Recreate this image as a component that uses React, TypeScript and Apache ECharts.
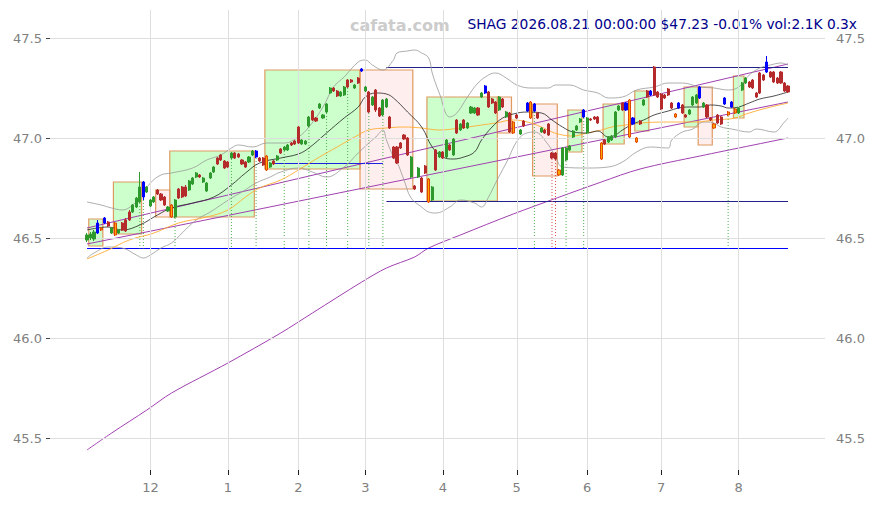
import React, { useEffect, useRef } from 'react';
import * as echarts from 'echarts';

// ---------- categories (trading days) ----------
const HOLIDAYS = ['2025-11-27', '2025-12-25', '2026-01-01', '2026-01-19', '2026-02-16', '2026-04-03', '2026-05-25', '2026-06-19', '2026-07-03', '2026-09-07'];
const FIRST_DAY = '2025-10-21';
const LAST_DAY = '2026-09-04';
const PAD = 10; // empty trading days before/after the data

const monthStarts = ['2025-12-01', '2026-01-02', '2026-02-02', '2026-03-02', '2026-04-01', '2026-05-01', '2026-06-01', '2026-07-01', '2026-08-03'];
const monthLabels = ['12', '1', '2', '3', '4', '5', '6', '7', '8'];
const yTicks = [45.5, 46.0, 46.5, 47.0, 47.5];

// ---------- title ----------
const ticker = 'SHAG';
const stamp = '2026.08.21 00:00:00';
const lastPrice = '$47.23';
const change = '-0.01%';
const volume = 'vol:2.1K';
const volRatio = '0.3x';

// ---------- candles (Nov 4 2025 .. Aug 21 2026) ----------
const opens = [
  46.49, 46.50, 46.495, 46.525, 46.54, 46.575, 46.58, 46.525, 46.575, 46.525,
  46.575, 46.59, 46.63, 46.63, 46.655, 46.68, 46.705, 46.73, 46.66, 46.68,
  46.74, 46.72, 46.705, 46.635, 46.665, 46.605, 46.745, 46.755, 46.755, 46.74,
  46.77, 46.805, 46.815, 46.78, 46.735, 46.80, 46.83, 46.90, 46.915, 46.885,
  46.88, 46.90, 46.925, 46.92, 46.89, 46.88, 46.88, 46.915, 46.905, 46.90,
  46.90, 46.91, 46.855, 46.885, 46.89, 46.945, 46.94, 46.94, 46.975, 46.985,
  47.055, 46.97, 46.97, 47.06, 47.135, 47.10, 47.15, 47.10, 47.13, 47.225,
  47.25, 47.235, 47.21, 47.215, 47.29, 47.29, 47.25, 47.30, 47.335, 47.235,
  47.23, 47.165, 47.24, 47.15, 47.115, 47.155, 47.105, 46.955, 46.955, 46.975,
  47.015, 47.00, 46.805, 46.76, 46.805, 46.80, 46.86, 46.795, 46.69, 46.94,
  46.905, 46.93, 46.905, 46.965, 46.915, 47.09, 47.04, 47.09, 47.05, 47.125,
  47.125, 47.15, 47.205, 47.225, 47.23, 47.195, 47.18, 47.14, 47.195, 47.105,
  47.125, 47.08, 47.115, 47.02, 47.085, 47.135, 47.18, 47.135, 47.125, 47.03,
  47.04, 47.07, 46.925, 46.925, 46.84, 46.815, 46.89, 46.94, 47.005, 47.04,
  47.08, 47.105, 47.025, 47.095, 47.105, 47.105, 46.975, 46.99, 46.98, 46.99,
  47.005, 47.14, 47.175, 47.14, 47.19, 47.07, 47.00, 47.085, 47.165, 47.235,
  47.215, 47.355, 47.23, 47.22, 47.215, 47.245, 47.175, 47.12, 47.15, 47.165,
  47.115, 47.12, 47.165, 47.175, 47.20, 47.155, 47.165, 47.10, 47.07, 47.115,
  47.105, 47.17, 47.13, 47.155, 47.145, 47.125, 47.24, 47.275, 47.28, 47.29,
  47.225, 47.325, 47.315, 47.33, 47.33, 47.33, 47.30, 47.33, 47.275, 47.26,
];
const closes = [
  46.515, 46.52, 46.53, 46.575, 46.55, 46.60, 46.56, 46.55, 46.515, 46.54,
  46.54, 46.535, 46.59, 46.665, 46.70, 46.755, 46.78, 46.755, 46.69, 46.705,
  46.72, 46.69, 46.665, 46.655, 46.605, 46.69, 46.70, 46.705, 46.71, 46.785,
  46.80, 46.825, 46.805, 46.80, 46.775, 46.825, 46.855, 46.87, 46.89, 46.85,
  46.855, 46.925, 46.90, 46.905, 46.87, 46.855, 46.905, 46.935, 46.935, 46.885,
  46.865, 46.84, 46.875, 46.87, 46.91, 46.925, 46.955, 46.965, 46.965, 46.97,
  46.975, 46.99, 46.985, 47.105, 47.09, 47.085, 47.17, 47.115, 47.17, 47.25,
  47.235, 47.21, 47.23, 47.255, 47.255, 47.28, 47.265, 47.275, 47.345, 47.255,
  47.13, 47.205, 47.14, 47.11, 47.19, 47.195, 47.05, 46.90, 46.875, 46.95,
  46.995, 46.915, 46.905, 46.745, 46.85, 46.73, 46.825, 46.68, 46.755, 46.84,
  46.93, 46.90, 46.99, 46.94, 46.995, 47.025, 47.07, 47.05, 47.075, 47.155,
  47.15, 47.115, 47.225, 47.26, 47.155, 47.175, 47.125, 47.205, 47.155, 47.13,
  47.03, 47.025, 47.10, 47.04, 47.06, 47.175, 47.10, 47.17, 47.10, 47.05,
  47.025, 47.015, 46.90, 46.895, 46.815, 46.95, 46.95, 46.96, 47.035, 47.06,
  47.095, 47.14, 47.10, 47.09, 47.095, 47.075, 46.895, 46.97, 47.005, 47.01,
  47.13, 47.16, 47.14, 47.175, 47.005, 47.10, 46.98, 47.07, 47.19, 47.205,
  47.235, 47.215, 47.205, 47.145, 47.20, 47.215, 47.15, 47.105, 47.175, 47.125,
  47.105, 47.14, 47.205, 47.215, 47.255, 47.175, 47.105, 47.09, 47.05, 47.075,
  47.07, 47.20, 47.115, 47.18, 47.125, 47.15, 47.275, 47.30, 47.255, 47.25,
  47.205, 47.225, 47.29, 47.38, 47.305, 47.28, 47.275, 47.275, 47.235, 47.23,
];
const lows = [
  46.48, 46.49, 46.485, 46.52, 46.535, 46.57, 46.555, 46.52, 46.51, 46.52,
  46.535, 46.53, 46.585, 46.625, 46.65, 46.675, 46.69, 46.725, 46.655, 46.675,
  46.715, 46.685, 46.66, 46.63, 46.60, 46.60, 46.695, 46.70, 46.705, 46.735,
  46.765, 46.80, 46.80, 46.775, 46.73, 46.795, 46.825, 46.865, 46.885, 46.845,
  46.85, 46.895, 46.895, 46.90, 46.865, 46.85, 46.875, 46.91, 46.90, 46.88,
  46.86, 46.835, 46.85, 46.865, 46.885, 46.92, 46.935, 46.935, 46.96, 46.965,
  46.97, 46.965, 46.965, 47.055, 47.085, 47.08, 47.145, 47.095, 47.125, 47.22,
  47.23, 47.205, 47.205, 47.21, 47.25, 47.275, 47.245, 47.27, 47.33, 47.23,
  47.125, 47.16, 47.13, 47.105, 47.11, 47.15, 47.045, 46.895, 46.87, 46.945,
  46.99, 46.91, 46.80, 46.74, 46.80, 46.725, 46.82, 46.675, 46.685, 46.835,
  46.90, 46.895, 46.90, 46.935, 46.91, 47.02, 47.035, 47.045, 47.045, 47.12,
  47.12, 47.11, 47.20, 47.22, 47.15, 47.17, 47.12, 47.135, 47.15, 47.10,
  47.025, 47.02, 47.095, 47.015, 47.055, 47.13, 47.095, 47.13, 47.095, 47.025,
  47.02, 47.01, 46.895, 46.89, 46.81, 46.81, 46.885, 46.935, 47.00, 47.035,
  47.075, 47.10, 47.02, 47.085, 47.09, 47.07, 46.89, 46.965, 46.975, 46.985,
  47.00, 47.135, 47.135, 47.135, 47.00, 47.065, 46.975, 47.065, 47.16, 47.20,
  47.21, 47.21, 47.20, 47.14, 47.195, 47.21, 47.145, 47.10, 47.145, 47.12,
  47.10, 47.115, 47.16, 47.17, 47.195, 47.15, 47.10, 47.085, 47.045, 47.07,
  47.065, 47.165, 47.11, 47.15, 47.12, 47.12, 47.235, 47.27, 47.25, 47.245,
  47.20, 47.22, 47.285, 47.325, 47.30, 47.275, 47.27, 47.27, 47.23, 47.225,
];
const highs = [
  46.525, 46.53, 46.54, 46.59, 46.555, 46.605, 46.585, 46.555, 46.58, 46.545,
  46.58, 46.60, 46.64, 46.67, 46.705, 46.83, 46.785, 46.76, 46.695, 46.71,
  46.745, 46.725, 46.71, 46.66, 46.67, 46.695, 46.75, 46.76, 46.765, 46.79,
  46.805, 46.83, 46.82, 46.805, 46.78, 46.83, 46.86, 46.905, 46.92, 46.89,
  46.885, 46.93, 46.93, 46.925, 46.895, 46.885, 46.91, 46.94, 46.94, 46.905,
  46.905, 46.915, 46.88, 46.89, 46.915, 46.95, 46.96, 46.97, 46.98, 46.99,
  47.06, 46.995, 46.99, 47.11, 47.14, 47.105, 47.175, 47.12, 47.175, 47.255,
  47.255, 47.24, 47.235, 47.26, 47.295, 47.295, 47.27, 47.305, 47.35, 47.26,
  47.235, 47.21, 47.245, 47.155, 47.195, 47.20, 47.11, 46.96, 46.96, 46.98,
  47.02, 47.005, 46.91, 46.765, 46.855, 46.805, 46.865, 46.80, 46.76, 46.945,
  46.935, 46.935, 46.995, 46.97, 47.00, 47.095, 47.075, 47.095, 47.08, 47.16,
  47.155, 47.155, 47.23, 47.265, 47.235, 47.20, 47.185, 47.21, 47.20, 47.135,
  47.13, 47.085, 47.12, 47.045, 47.09, 47.18, 47.185, 47.175, 47.13, 47.055,
  47.045, 47.075, 46.93, 46.93, 46.845, 46.955, 46.955, 46.965, 47.04, 47.065,
  47.10, 47.145, 47.105, 47.10, 47.11, 47.11, 46.98, 46.995, 47.01, 47.015,
  47.135, 47.165, 47.18, 47.18, 47.195, 47.105, 47.005, 47.09, 47.195, 47.24,
  47.24, 47.36, 47.235, 47.225, 47.22, 47.25, 47.18, 47.125, 47.18, 47.17,
  47.12, 47.145, 47.21, 47.22, 47.26, 47.18, 47.17, 47.105, 47.075, 47.12,
  47.11, 47.205, 47.135, 47.185, 47.15, 47.155, 47.28, 47.305, 47.285, 47.295,
  47.23, 47.33, 47.32, 47.41, 47.335, 47.335, 47.305, 47.335, 47.28, 47.265,
];
const blueIdx = [3, 5, 16, 48, 78, 113, 125, 127, 141, 153, 155, 160, 168, 174, 181, 183, 193];
const orangeIdx = [4, 8, 24, 51, 97, 121, 126, 134, 146, 154, 156, 167, 178, 182, 184];

// ---------- indicator lines: [dataIndex, value] ----------
const maShort = [
  [0, 46.54], [6, 46.555], [10, 46.54], [15, 46.565], [20, 46.615], [24, 46.65], [30, 46.675], [36, 46.705],
  [41, 46.765], [45, 46.825], [49, 46.875], [55, 46.90], [60, 46.92], [63, 46.95], [68, 47.025], [73, 47.10],
  [77, 47.155], [79, 47.205], [82, 47.225], [85, 47.22], [87, 47.20], [91, 47.13], [95, 47.055], [98, 46.955],
  [101, 46.905], [104, 46.895], [107, 46.905], [110, 46.93], [112, 46.99], [115, 47.055], [118, 47.10],
  [121, 47.12], [125, 47.13], [129, 47.125], [132, 47.09], [135, 47.055], [138, 47.03], [142, 47.025],
  [145, 47.035], [148, 47.005], [150, 47.015], [152, 47.04], [155, 47.07], [158, 47.09], [161, 47.115],
  [165, 47.135], [168, 47.15], [171, 47.155], [174, 47.155], [177, 47.165], [180, 47.16], [182, 47.15],
  [185, 47.155], [188, 47.175], [191, 47.195], [195, 47.21], [199, 47.23],
];
const bandUpper = [
  [0, 46.68], [4, 46.665], [7, 46.65], [10, 46.64], [13, 46.665], [16, 46.725], [18, 46.775], [21, 46.815],
  [24, 46.825], [30, 46.85], [34, 46.89], [38, 46.915], [41, 46.95], [43, 46.965], [47, 46.955], [51, 46.975],
  [56, 46.975], [60, 47.005], [63, 47.055], [67, 47.155], [70, 47.255], [73, 47.305], [77, 47.38], [79, 47.39],
  [81, 47.365], [84, 47.34], [87, 47.39], [88, 47.425], [91, 47.435], [93, 47.44], [95, 47.425], [97, 47.40],
  [98, 47.325], [100, 47.225], [103, 47.105], [105, 47.125], [108, 47.205], [111, 47.275], [114, 47.315],
  [116, 47.325], [119, 47.30], [122, 47.265], [126, 47.25], [131, 47.25], [133, 47.265], [137, 47.265],
  [141, 47.24], [145, 47.225], [148, 47.20], [152, 47.205], [156, 47.24], [161, 47.255], [165, 47.275],
  [169, 47.275], [174, 47.255], [178, 47.25], [182, 47.24], [185, 47.255], [188, 47.315], [191, 47.35],
  [194, 47.365], [197, 47.375], [199, 47.365],
];
const bandLower = [
  [0, 46.40], [2, 46.425], [6, 46.455], [10, 46.45], [14, 46.415], [16, 46.40], [18, 46.415], [21, 46.45],
  [24, 46.475], [27, 46.525], [31, 46.59], [35, 46.63], [38, 46.665], [41, 46.70], [44, 46.73], [48, 46.775],
  [52, 46.805], [55, 46.83], [60, 46.85], [64, 46.83], [68, 46.805], [73, 46.855], [77, 46.925], [80, 46.975],
  [82, 47.005], [84, 47.04], [85, 46.99], [87, 46.905], [88, 46.88], [90, 46.79], [92, 46.70], [95, 46.655],
  [97, 46.63], [99, 46.625], [103, 46.655], [106, 46.69], [110, 46.675], [112, 46.655], [114, 46.705],
  [116, 46.775], [119, 46.875], [123, 47.005], [127, 47.03], [131, 46.965], [133, 46.905], [135, 46.855],
  [142, 46.85], [148, 46.855], [152, 46.88], [156, 46.93], [160, 46.955], [165, 46.95], [166, 46.99],
  [169, 47.03], [172, 47.045], [174, 47.075], [176, 47.08], [178, 47.075], [180, 47.055], [183, 47.045],
  [188, 47.03], [190, 47.045], [195, 47.03], [198, 47.08], [199, 47.10],
];
const maMid = [
  [0, 46.395], [6, 46.44], [12, 46.49], [19, 46.525], [26, 46.575], [34, 46.605], [40, 46.64], [45, 46.705],
  [49, 46.75], [55, 46.79], [60, 46.84], [66, 46.905], [71, 46.955], [76, 47.005], [80, 47.04], [85, 47.05],
  [90, 47.055], [95, 47.05], [100, 47.04], [106, 47.05], [112, 47.065], [116, 47.075], [121, 47.09],
  [125, 47.08], [129, 47.055], [132, 47.03], [135, 47.015], [138, 47.01], [142, 47.025], [146, 47.04],
  [149, 47.055], [153, 47.065], [157, 47.075], [166, 47.08], [173, 47.08], [178, 47.09], [182, 47.095],
  [184, 47.10], [188, 47.125], [193, 47.15], [199, 47.175],
];
const maLong = [
  [0, 45.44], [7, 45.525], [17, 45.64], [24, 45.725], [40, 45.875], [55, 46.025], [64, 46.125], [78, 46.28],
  [85, 46.35], [93, 46.405], [97, 46.45], [106, 46.515], [121, 46.62], [146, 46.78], [157, 46.845],
  [174, 46.91], [199, 47.0],
];
const channelUpper = [[0, 46.55], [199, 47.37]];
const channelLower = [[0, 46.47], [199, 47.18]];
const supportLevel = 46.4475;
const levelTop = [[85, 47.3525], [199, 47.3525]];
const levelBottom = [[85, 46.6825], [199, 46.6825]];
const levelMid = [[52, 46.8725], [84, 46.8725]];

// boxes: [firstIndex, lastIndex, low, high, kind 0=green 1=pink]
const boxes = [
  [1, 4, 46.46, 46.595, 0],
  [8, 15, 46.52, 46.78, 0],
  [20, 23, 46.605, 46.74, 1],
  [24, 47, 46.605, 46.935, 0],
  [51, 77, 46.845, 47.34, 0],
  [78, 92, 46.745, 47.34, 1],
  [97, 116, 46.685, 47.205, 0],
  [117, 120, 47.025, 47.205, 1],
  [127, 133, 46.81, 47.17, 1],
  [137, 140, 46.93, 47.14, 0],
  [147, 152, 46.97, 47.17, 0],
  [156, 159, 47.035, 47.235, 0],
  [170, 173, 47.055, 47.255, 0],
  [174, 177, 46.965, 47.255, 1],
  [184, 186, 47.10, 47.31, 0],
];
const greenDrops = [15, 16, 25, 41, 48, 56, 63, 68, 74, 80, 84, 127, 136, 141, 182];
const redDrops = [132, 133];

function buildTradingDays(): string[] {
  const out: string[] = [];
  const hol = new Set(HOLIDAYS);
  const d = new Date(FIRST_DAY + 'T00:00:00Z');
  const end = new Date(LAST_DAY + 'T00:00:00Z');
  while (d.getTime() <= end.getTime()) {
    const wd = d.getUTCDay();
    const s = d.toISOString().slice(0, 10);
    if (wd !== 0 && wd !== 6 && !hol.has(s)) out.push(s);
    d.setUTCDate(d.getUTCDate() + 1);
  }
  return out;
}

const shift = (arr: number[][]) => arr.map(([i, v]) => [i + PAD, v]);

export default function App() {
  const ref = useRef<HTMLDivElement>(null);
  useEffect(() => {
    if (!ref.current) return;
    const chart = echarts.init(ref.current, null, { renderer: 'svg' });
    const cats = buildTradingDays();
    const empty = ['-', '-', '-', '-'];
    const pad = Array.from({ length: PAD }, () => empty);
    const blueSet = new Set(blueIdx);
    const orangeSet = new Set(orangeIdx);
    const rows = closes.map((c, i) => [opens[i], c, lows[i], highs[i]]);
    const pick = (pred: (i: number) => boolean) => [
      ...pad,
      ...rows.map((r, i) => (pred(i) ? r : empty)),
      ...Array.from({ length: cats.length - PAD - rows.length }, () => empty),
    ];
    const isMonthStart = (_idx: number, value: string) => monthStarts.includes(value);
    const axisLabelStyle = { color: '#808080', fontSize: 13, fontFamily: 'DejaVu Sans' };
    const gridColor = '#dedede';

    const lineSeries = (data: number[][], color: string, width: number, z: number, smooth: number | boolean = false) => ({
      type: 'line',
      data: shift(data),
      showSymbol: false,
      symbol: 'none',
      smooth,
      silent: true,
      z,
      lineStyle: { color, width },
    });

    const option: any = {
      animation: false,
      textStyle: { fontFamily: 'DejaVu Sans' },
      grid: { left: 50, right: 50, top: 10, bottom: 35 },
      xAxis: {
        type: 'category',
        data: cats,
        boundaryGap: true,
        axisLine: { show: false },
        axisTick: { show: true, alignWithLabel: true, interval: isMonthStart, length: 5, lineStyle: { color: '#222' } },
        axisLabel: {
          ...axisLabelStyle,
          interval: isMonthStart,
          margin: 11,
          formatter: (v: string) => {
            const k = monthStarts.indexOf(v);
            return k >= 0 ? monthLabels[k] : '';
          },
        },
        splitLine: { show: false },
      },
      yAxis: [
        {
          type: 'value',
          position: 'left',
          min: 45.34,
          max: 47.64,
          axisLine: { show: false },
          splitLine: { show: false },
          axisTick: { show: true, customValues: yTicks, length: 4, lineStyle: { color: '#444' } },
          axisLabel: { ...axisLabelStyle, customValues: yTicks, margin: 8, formatter: (v: number) => v.toFixed(1) },
        },
        {
          type: 'value',
          position: 'right',
          min: 45.34,
          max: 47.64,
          axisLine: { show: false },
          splitLine: { show: false },
          axisTick: { show: false },
          axisLabel: { ...axisLabelStyle, customValues: yTicks, margin: 11, formatter: (v: number) => v.toFixed(1) },
        },
      ],
      graphic: [
        {
          type: 'text',
          left: 350,
          top: 17,
          silent: true,
          style: { text: 'cafata.com', font: 'bold 16px "DejaVu Sans"', fill: '#cccccc' },
        },
        {
          type: 'text',
          right: 18,
          top: 17,
          silent: true,
          style: {
            text: [ticker, stamp, lastPrice, change, volume, volRatio].join(' '),
            font: '13.8px "DejaVu Sans"',
            fill: '#00008b',
          },
        },
      ],
      series: [
        {
          type: 'line',
          data: [],
          silent: true,
          z: 0,
          markLine: {
            silent: true,
            symbol: 'none',
            label: { show: false },
            lineStyle: { color: gridColor, width: 1, type: 'solid' },
            data: [
              ...yTicks.map((v) => ({ yAxis: v })),
              ...monthStarts.map((d) => ({ xAxis: d })),
            ],
          },
        },
        {
          type: 'custom',
          silent: true,
          z: 1,
          encode: { x: [0, 1], y: [2, 3] },
          data: boxes.map((b) => [b[0] + PAD, b[1] + PAD, b[2], b[3], b[4]]),
          renderItem: (_p: any, api: any) => {
            const bw = api.size([1, 0])[0];
            const a = api.coord([api.value(0), api.value(3)]);
            const b = api.coord([api.value(1), api.value(2)]);
            const pink = api.value(4) === 1;
            return {
              type: 'rect',
              shape: { x: a[0] - bw / 2, y: a[1], width: b[0] - a[0] + bw, height: b[1] - a[1] },
              style: {
                fill: pink ? 'rgba(255,40,40,0.08)' : 'rgba(0,255,0,0.2)',
                stroke: '#e09a60',
                lineWidth: 1.2,
              },
            };
          },
        },
        lineSeries(maLong, '#a040b0', 1, 2, 0.3),
        lineSeries(channelUpper, '#a040b0', 1, 2),
        lineSeries(channelLower, '#a040b0', 1, 2),
        lineSeries([[0, supportLevel], [199, supportLevel]], '#0000ff', 1, 2),
        lineSeries(levelTop, '#22228a', 1, 2),
        lineSeries(levelBottom, '#22228a', 1, 2),
        lineSeries(levelMid, '#2020e0', 1, 2),
        lineSeries(bandUpper, '#999999', 0.8, 3, 0.4),
        lineSeries(bandLower, '#999999', 0.8, 3, 0.4),
        lineSeries(maMid, '#ffad33', 0.9, 3, 0.4),
        lineSeries(maShort, '#222222', 0.8, 3, 0.4),
        {
          type: 'custom',
          silent: true,
          z: 3,
          encode: { x: 0, y: [1, 2] },
          data: [
            ...greenDrops.map((i) => [i + PAD, lows[i], supportLevel, 0]),
            ...redDrops.map((i) => [i + PAD, lows[i], supportLevel, 1]),
          ],
          renderItem: (_p: any, api: any) => {
            const a = api.coord([api.value(0), api.value(1)]);
            const b = api.coord([api.value(0), api.value(2)]);
            return {
              type: 'line',
              shape: { x1: a[0], y1: a[1], x2: b[0], y2: b[1] },
              style: { stroke: api.value(3) === 1 ? '#e05050' : '#50b050', lineWidth: 1, lineDash: [1, 2] },
            };
          },
        },
        {
          type: 'candlestick',
          z: 5,
          silent: true,
          barWidth: 2.6,
          data: pick((i) => !blueSet.has(i) && !orangeSet.has(i)),
          itemStyle: { color: '#2e9a2e', color0: '#b52a2a', borderColor: '#2e9a2e', borderColor0: '#b52a2a', borderWidth: 1 },
        },
        {
          type: 'candlestick',
          z: 6,
          silent: true,
          barWidth: 2.6,
          data: pick((i) => blueSet.has(i)),
          itemStyle: { color: '#0000ff', color0: '#0000ff', borderColor: '#0000ff', borderColor0: '#0000ff', borderWidth: 1 },
        },
        {
          type: 'candlestick',
          z: 6,
          silent: true,
          barWidth: 2.6,
          data: pick((i) => orangeSet.has(i)),
          itemStyle: { color: '#ffa500', color0: '#ffa500', borderColor: '#e04800', borderColor0: '#e04800', borderWidth: 1 },
        },
      ],
    };
    chart.setOption(option);
    return () => chart.dispose();
  }, []);
  return <div ref={ref} style={{ position: 'absolute', left: 0, top: 0, width: 875, height: 505 }} />;
}
